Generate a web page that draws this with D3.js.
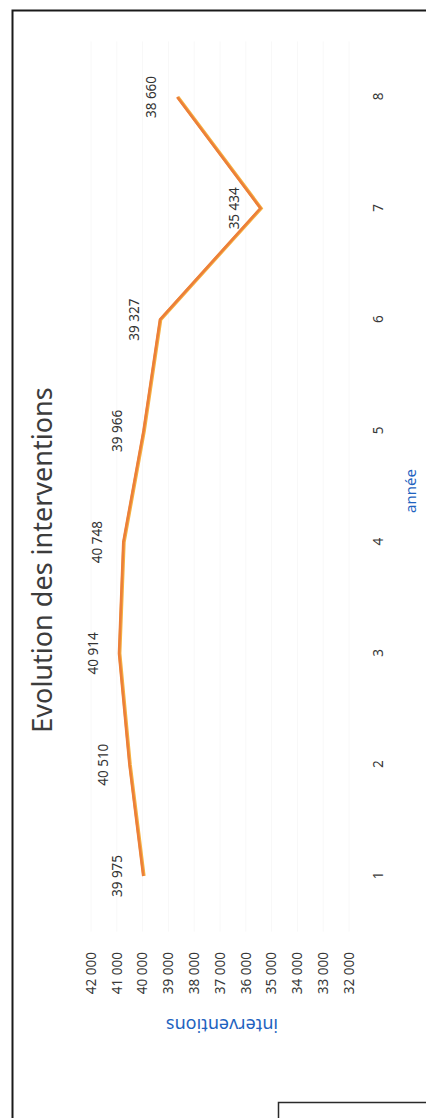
<!DOCTYPE html>
<html>
<head>
<meta charset="utf-8">
<script src="https://cdn.jsdelivr.net/npm/d3@7"></script>
<style>
  html, body { margin: 0; padding: 0; background: #fff; }
  svg { display: block; }
  text { font-family: "Noto Sans", "Open Sans", sans-serif; }
</style>
</head>
<body>
<svg id="chart" width="426" height="1118"></svg>
<script>
// Interventions per year
const years = [1, 2, 3, 4, 5, 6, 7, 8];
const interventions = [39975, 40510, 40914, 40748, 39966, 39327, 35434, 38660];
const valueTicks = [32000, 33000, 34000, 35000, 36000, 37000, 38000, 39000, 40000, 41000, 42000];

const chartTitle = "Evolution des interventions";
const xTitle = "année";
const yTitle = "interventions";

const W = 426, H = 1118;
const svg = d3.select("#chart");

const fr = d3.formatLocale({ decimal: ",", thousands: " ", grouping: [3], currency: ["", " €"] });
const fmt = fr.format(",");

// Page frame and the box under it
svg.append("rect")
  .attr("x", 12.5).attr("y", 10.5)
  .attr("width", 600).attr("height", 1300)
  .attr("fill", "none").attr("stroke", "#1a1a1a").attr("stroke-width", 2);

svg.append("rect")
  .attr("x", 278.5).attr("y", 1102.5)
  .attr("width", 300).attr("height", 60)
  .attr("fill", "#fff").attr("stroke", "#2a2a2a").attr("stroke-width", 1.5);

// The chart is laid out in its own frame (years left to right, values upward)
// and the whole frame is turned a quarter turn counter-clockwise on the page.
const g = svg.append("g").attr("transform", `translate(0,${H}) rotate(-90)`);

const x = d3.scaleLinear().domain([1, 8]).range([H - 876, H - 97]);
const y = d3.scaleLinear().domain([32000, 42000]).range([349, 91]);

const step = x(2) - x(1);
const plotLeft = x(1) - step / 2, plotRight = x(8) + step / 2;

// very faint horizontal gridlines
g.append("g")
  .selectAll("line")
  .data(valueTicks)
  .join("line")
  .attr("x1", plotLeft).attr("x2", plotRight)
  .attr("y1", d => y(d)).attr("y2", d => y(d))
  .attr("stroke", "#f8f8f8").attr("stroke-width", 1);

// value axis labels
const yAxis = d3.axisLeft(y).tickValues(valueTicks).tickFormat(fmt).tickSize(0).tickPadding(0);
const yAxisG = g.append("g")
  .attr("transform", `translate(${H - 952},0)`)
  .call(yAxis);
yAxisG.select(".domain").remove();
yAxisG.selectAll("text")
  .attr("font-size", 13.5).attr("fill", "#383838")
  .attr("font-family", "Noto Sans, sans-serif");

// year axis labels
const xAxis = d3.axisBottom(x).tickValues(years).tickFormat(d3.format("d")).tickSize(0).tickPadding(0);
const xAxisG = g.append("g")
  .attr("transform", `translate(0,373)`)
  .call(xAxis);
xAxisG.select(".domain").remove();
xAxisG.selectAll("text")
  .attr("font-size", 13.5).attr("fill", "#383838")
  .attr("font-family", "Noto Sans, sans-serif");

// series line
const line = d3.line()
  .x((d, i) => x(years[i]))
  .y(d => y(d));

g.append("path")
  .datum(interventions)
  .attr("d", line)
  .attr("fill", "none")
  .attr("stroke", "#f5b040")
  .attr("stroke-width", 3.4)
  .attr("stroke-linejoin", "miter")
  .attr("transform", "translate(0,0.7)");
g.append("path")
  .datum(interventions)
  .attr("d", line)
  .attr("fill", "none")
  .attr("stroke", "#ec7f3a")
  .attr("stroke-width", 2.6)
  .attr("stroke-linejoin", "miter");

// value labels above each point
g.append("g")
  .selectAll("text")
  .data(interventions)
  .join("text")
  .attr("x", (d, i) => x(years[i]))
  .attr("y", d => y(d) - 21)
  .attr("text-anchor", "middle")
  .attr("font-size", 13.5)
  .attr("fill", "#333")
  .text(d => fmt(d));

// chart title
g.append("text")
  .attr("x", H - 560)
  .attr("y", 52)
  .attr("text-anchor", "middle")
  .attr("font-size", 27)
  .attr("fill", "#3c3c3c")
  .text(chartTitle);

// axis titles
g.append("text")
  .attr("x", H - 491)
  .attr("y", 416)
  .attr("text-anchor", "middle")
  .attr("font-size", 15)
  .attr("fill", "#1f63c0")
  .text(xTitle);

g.append("text")
  .attr("transform", `translate(${H - 1025},222) rotate(-90)`)
  .attr("text-anchor", "middle")
  .attr("dy", "0.35em")
  .attr("font-size", 18)
  .attr("fill", "#1f63c0")
  .text(yTitle);
</script>
</body>
</html>
